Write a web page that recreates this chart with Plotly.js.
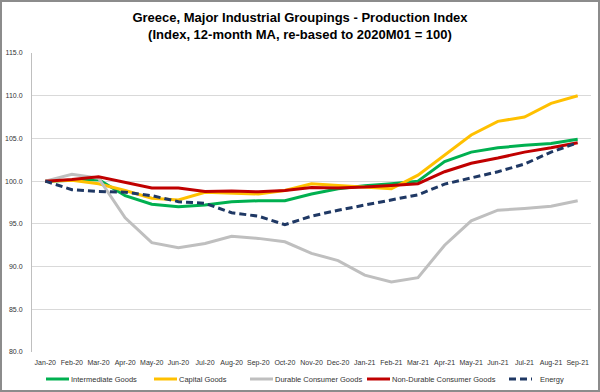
<!DOCTYPE html>
<html>
<head>
<meta charset="utf-8">
<script src="https://cdn.plot.ly/plotly-3.0.1.min.js"></script>
<style>
html,body{margin:0;padding:0;background:#fff;}
#wrap{position:relative;width:600px;height:392px;}
#chart{width:600px;height:392px;}
#frame{position:absolute;left:0;top:0;width:600px;height:392px;box-sizing:border-box;border:2px solid #8c8c8c;pointer-events:none;}
</style>
</head>
<body>
<div id="wrap"><div id="chart"></div><div id="frame"></div></div>
<script>
var months = ["Jan-20","Feb-20","Mar-20","Apr-20","May-20","Jun-20","Jul-20","Aug-20","Sep-20","Oct-20","Nov-20","Dec-20","Jan-21","Feb-21","Mar-21","Apr-21","May-21","Jun-21","Jul-21","Aug-21","Sep-21"];
var intermediateGoods = [100.0,100.1,100.2,98.3,97.3,97.0,97.2,97.6,97.7,97.7,98.5,99.1,99.45,99.7,100.0,102.3,103.4,103.9,104.2,104.4,104.9];
var capitalGoods = [100.0,100.1,99.7,98.9,98.0,97.8,98.7,98.6,98.5,98.9,99.7,99.5,99.3,99.1,100.7,103.0,105.4,107.0,107.5,109.1,110.0];
var durableConsumerGoods = [100.0,100.8,100.35,95.7,92.8,92.2,92.7,93.55,93.3,92.9,91.55,90.7,89.0,88.2,88.7,92.5,95.35,96.6,96.8,97.05,97.7];
var nonDurableConsumerGoods = [100.0,100.2,100.5,99.85,99.2,99.2,98.8,98.85,98.75,98.9,99.25,99.2,99.3,99.5,99.7,101.1,102.1,102.7,103.4,103.9,104.5];
var energy = [100.0,99.0,98.8,98.7,98.3,97.6,97.4,96.3,95.9,94.9,95.9,96.6,97.2,97.8,98.4,99.65,100.4,101.1,102.0,103.4,104.5];
var seriesNames = ["Intermediate Goods","Capital Goods","Durable Consumer Goods","Non-Durable Consumer Goods","Energy"];
var yTicks = [80,85,90,95,100,105,110,115];

var seriesValues = [intermediateGoods, capitalGoods, durableConsumerGoods, nonDurableConsumerGoods, energy];
var seriesColors = ["#00b050","#ffc000","#bfbfbf","#c00000","#1f3864"];
var seriesDash = ["solid","solid","solid","solid","7px,4px"];

var fontFam = "Liberation Sans, Arial, sans-serif";
var W = 600, H = 392, M = {l:32, r:9, t:53, b:40};
var pw = W - M.l - M.r, ph = H - M.t - M.b;

var data = seriesNames.map(function(name, i){
  return {type:"scatter", mode:"lines", name:name, x:months, y:seriesValues[i],
    line:{color:seriesColors[i], width:3, dash:seriesDash[i]}, hoverinfo:"skip", showlegend:false};
});

// custom legend (layout positions in pixels, converted to paper coords)
var legendStartPx = [46, 154, 250, 367, 509];
var legendLineLen = 23, legendYpx = 379;
function px2x(p){ return (p - M.l) / pw; }
var legY = (M.t + ph - legendYpx) / ph;
var shapes = [], annotations = [];
seriesNames.forEach(function(name, i){
  var x0 = legendStartPx[i];
  shapes.push({type:"line", xref:"paper", yref:"paper", x0:px2x(x0), x1:px2x(x0+legendLineLen), y0:legY, y1:legY,
    line:{color:seriesColors[i], width:3, dash:seriesDash[i]}});
  annotations.push({xref:"paper", yref:"paper", x:px2x(x0+legendLineLen+(i===4?6:0)), y:legY, xanchor:"left", yanchor:"middle",
    text:name, showarrow:false, font:{family:fontFam, size:7.5, color:"#333333"}});
});

var layout = {
  width:W, height:H,
  margin:{l:M.l, r:M.r, t:M.t, b:M.b, autoexpand:false},
  paper_bgcolor:"#ffffff", plot_bgcolor:"#ffffff",
  title:{text:"<b>Greece, Major Industrial Groupings - Production Index<br>(Index, 12-month MA, re-based to 2020M01 = 100)</b>",
    font:{family:"Liberation Sans, Arial, sans-serif", size:13, color:"#000"},
    x:0.5, xanchor:"center", y:0.944, yanchor:"top", yref:"container"},
  xaxis:{type:"category", range:[-0.5, months.length-0.5], tickvals:months, ticktext:months, showgrid:false, zeroline:false,
    showline:false, ticks:"", tickangle:0, ticklabelstandoff:5, automargin:false,
    tickfont:{family:fontFam, size:7, color:"#333333"}},
  yaxis:{range:[80,115], tickvals:yTicks, ticktext:yTicks.map(function(v){return v.toFixed(1);}),
    showgrid:true, gridcolor:"#d9d9d9", gridwidth:1, zeroline:false, automargin:false,
    showline:true, linecolor:"#bfbfbf", linewidth:1, ticks:"", ticklabelstandoff:7,
    tickfont:{family:fontFam, size:7, color:"#333333"}},
  showlegend:false,
  shapes:shapes,
  annotations:annotations
};
Plotly.newPlot("chart", data, layout, {staticPlot:true, displayModeBar:false});
</script>
</body>
</html>
